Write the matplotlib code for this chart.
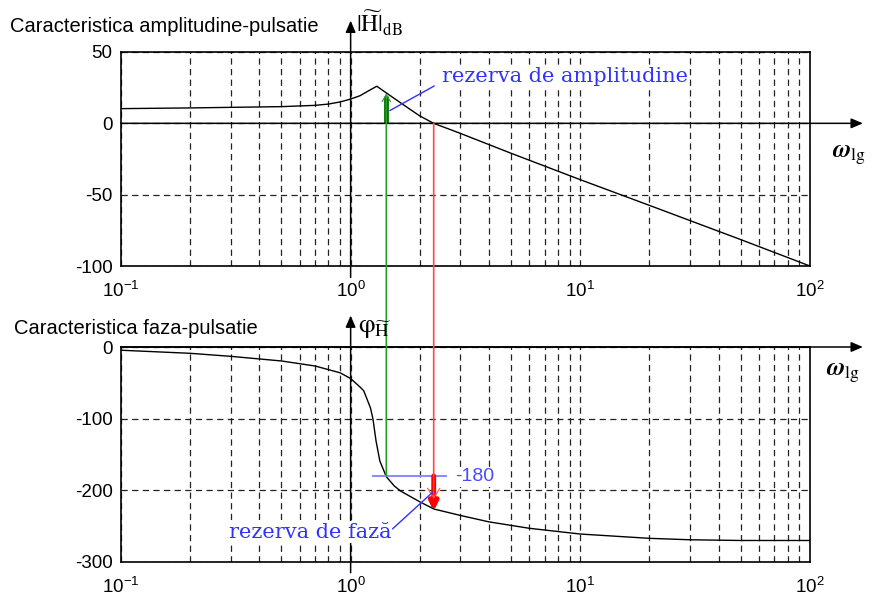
import numpy as np
import matplotlib
matplotlib.use('Agg')
import matplotlib.pyplot as plt
from matplotlib.patches import ConnectionPatch
from matplotlib.ticker import LogLocator, NullFormatter

plt.rcParams['font.family'] = ['Liberation Sans', 'DejaVu Sans']
plt.rcParams['axes.unicode_minus'] = False
plt.rcParams['mathtext.fontset'] = 'custom'
plt.rcParams['mathtext.rm'] = 'Liberation Sans'
plt.rcParams['mathtext.it'] = 'Liberation Sans:italic'
plt.rcParams['mathtext.bf'] = 'Liberation Sans:bold'

# amplitude characteristic (dB)
w_mag = [0.1, 0.2, 0.3, 0.5, 0.7, 0.8, 0.9, 1.0, 1.1, 1.2, 1.3, 1.5, 1.8, 2.0,
         2.3, 3, 5, 10, 20, 50, 100]
mag_db = [10.3, 10.8, 11.2, 11.7, 12.6, 13.5, 15.0, 17.0, 19.4, 22.9, 26.0,
          19.0, 10.2, 5.2, 0, -7, -21, -39.5, -57.5, -81.5, -100]

# phase characteristic (degrees)
w_phase = [0.1, 0.2, 0.3, 0.5, 0.7, 0.9, 1.0, 1.1, 1.14, 1.22, 1.25, 1.29,
           1.34, 1.43, 1.55, 1.65, 2.0, 2.3, 3.0, 4.0, 6.0, 10, 20, 30, 50, 100]
phase_deg = [-4.5, -8.8, -13, -19.5, -26.5, -36, -44, -56, -61, -85, -100,
             -131, -159, -181, -194, -201, -216, -226, -235, -244, -253, -261,
             -267, -269, -270, -270]

w_pc = 1.43          # phase crossover (phase = -180)
w_gc = 2.3           # gain crossover (0 dB)
gain_margin = 21     # dB
phase_at_gc = -229   # deg

xticks = [0.1, 1, 10, 100]
xlabels = [r'$10^{-1}$', r'$10^{0}$', r'$10^{1}$', r'$10^{2}$']
mag_ticks = [50, 0, -50, -100]
phase_ticks = [0, -100, -200, -300]

blue = '#3232ff'
white_box = dict(facecolor='white', edgecolor='none', pad=1.0)
grid_kw = dict(color='#222222', lw=0.9, ls=(0, (5, 3.5)))
axis_arrow = dict(arrowstyle='-|>,head_length=0.7,head_width=0.3', color='k',
                  lw=1.1, shrinkA=0, shrinkB=0)

fig = plt.figure(figsize=(8.76, 5.99), dpi=100)
ax1 = fig.add_axes([0.1381, 0.5559, 0.7865, 0.3573])
ax2 = fig.add_axes([0.1381, 0.0618, 0.7865, 0.3589])

for ax, ticks in ((ax1, mag_ticks), (ax2, phase_ticks)):
    ax.set_xscale('log')
    ax.set_xlim(0.1, 100)
    ax.set_ylim(min(ticks), max(ticks))
    ax.set_xticks(xticks, xlabels)
    ax.xaxis.set_minor_locator(LogLocator(subs=np.arange(2, 10)))
    ax.xaxis.set_minor_formatter(NullFormatter())
    ax.set_yticks(ticks)
    ax.tick_params(which='both', length=0, labelsize=13.5)
    ax.tick_params(axis='x', pad=11)
    ax.tick_params(axis='y', pad=6)
    ax.grid(True, which='both', axis='x', **grid_kw)
    ax.grid(True, which='major', axis='y', **grid_kw)
    for s in ax.spines.values():
        s.set_linewidth(1.2)

# the two curves
ax1.plot(w_mag, mag_db, color='k', lw=1.0)
ax2.plot(w_phase, phase_deg, color='k', lw=1.0)

# axis arrows (omega axis and vertical axis through 10^0)
ax1.annotate('', xy=(170, 0), xytext=(0.1, 0), arrowprops=axis_arrow,
             annotation_clip=False)
ax1.annotate('', xy=(1, 72), xytext=(1, -108), arrowprops=axis_arrow,
             annotation_clip=False)
ax2.annotate('', xy=(170, 0), xytext=(0.1, 0), arrowprops=axis_arrow,
             annotation_clip=False)
ax2.annotate('', xy=(1, 44), xytext=(1, -315), arrowprops=axis_arrow,
             annotation_clip=False)

# gain margin (green)
fig.add_artist(ConnectionPatch(xyA=(w_pc, 0), coordsA=ax1.transData,
                               xyB=(w_pc, -180), coordsB=ax2.transData,
                               color='#22a022', lw=1.2))
ax1.plot([w_pc, w_pc], [0, gain_margin - 2], color='#007800', lw=3.5,
         solid_capstyle='butt')
ax1.annotate('', xy=(w_pc, gain_margin), xytext=(w_pc, 0),
             arrowprops=dict(arrowstyle='->,head_length=0.5,head_width=0.3',
                             color='#3a9a3a', lw=0.9, shrinkA=0, shrinkB=0))

# phase margin (red)
fig.add_artist(ConnectionPatch(xyA=(w_gc, 0), coordsA=ax1.transData,
                               xyB=(w_gc, -180), coordsB=ax2.transData,
                               color='#ff4848', lw=1.2))
ax2.annotate('', xy=(w_gc, phase_at_gc), xytext=(w_gc, -180),
             arrowprops=dict(arrowstyle='-|>,head_length=0.5,head_width=0.25',
                             color='#ff0000', lw=3.5, shrinkA=0, shrinkB=0))
ax2.annotate('', xy=(w_gc, -212), xytext=(w_gc, -180),
             arrowprops=dict(arrowstyle='->,head_length=0.7,head_width=0.45',
                             color='#ff5050', lw=0.8, shrinkA=0, shrinkB=0))
ax2.plot([1.247, 2.59], [-180, -180], color='#8c8cff', lw=1.5)
ax2.text(2.85, -181, '-180', color='#4a4aff', fontsize=14, va='center',
         bbox=white_box)

# margin labels
ax1.annotate('rezerva de amplitudine', xy=(1.48, 8.9), xytext=(2.49, 29),
             family=['DejaVu Serif'], fontsize=15, color=blue, va='baseline',
             bbox=white_box,
             arrowprops=dict(arrowstyle='-', color=blue, lw=1.0, shrinkA=0,
                             shrinkB=0, relpos=(-0.03, 0.0)))
ax2.annotate('rezerva de fază', xy=(2.27, -203), xytext=(0.294, -266),
             family=['DejaVu Serif'], fontsize=15, color=blue, va='baseline',
             bbox=white_box,
             arrowprops=dict(arrowstyle='-', color=blue, lw=1.0, shrinkA=0,
                             shrinkB=0, relpos=(1.0, 0.6)))

# titles and axis symbols
W, H = 876, 599
fig.text(10 / W, 1 - 26 / H, 'Caracteristica amplitudine-pulsatie',
         fontsize=14.5, va='center')
fig.text(14 / W, 1 - 328 / H, 'Caracteristica faza-pulsatie',
         fontsize=14.5, va='center')
fig.text(356 / W, 1 - 33 / H, r'$|\widetilde{\mathrm{H}}|_{\mathrm{dB}}$',
         fontsize=17, math_fontfamily='stix', va='baseline')
fig.text(358 / W, 1 - 333 / H, r'$\mathrm{\varphi}_{\widetilde{\mathrm{H}}}$',
         fontsize=19, math_fontfamily='stix', va='baseline')
fig.text(832 / W, 1 - 158 / H, r'$\boldsymbol{\omega}_{\mathrm{lg}}$',
         fontsize=18, math_fontfamily='stix', va='baseline')
fig.text(826 / W, 1 - 376 / H, r'$\boldsymbol{\omega}_{\mathrm{lg}}$',
         fontsize=18, math_fontfamily='stix', va='baseline')

fig.savefig('out.png', dpi=100)
